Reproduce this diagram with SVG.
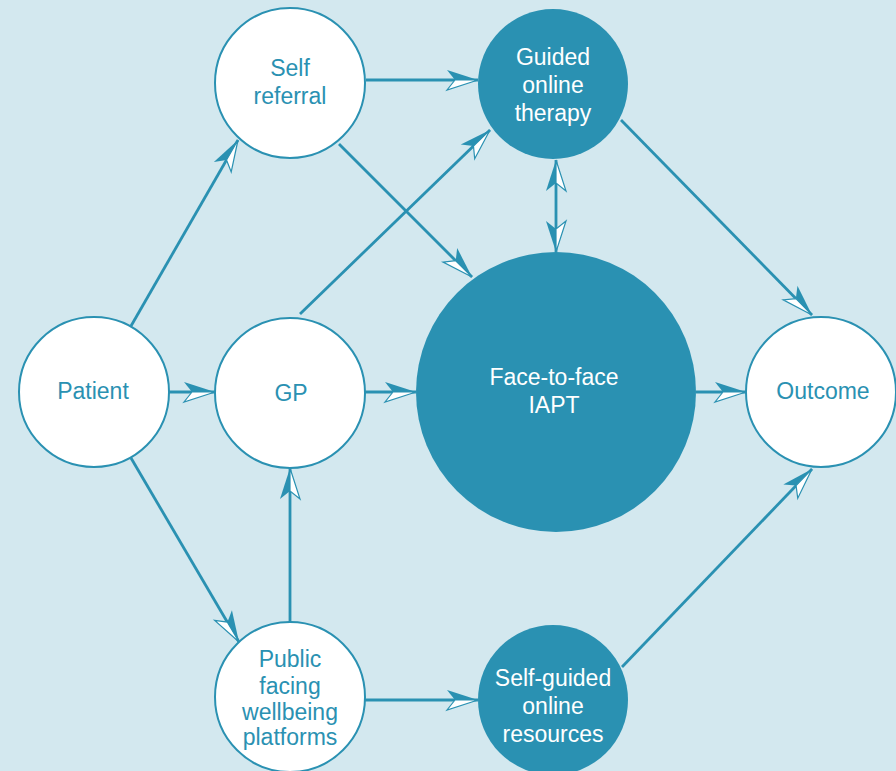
<svg xmlns="http://www.w3.org/2000/svg" width="896" height="771" viewBox="0 0 896 771">
<style>
.bg{fill:#d3e8ef}
.wn{fill:#ffffff;stroke:#2a91b2;stroke-width:2}
.dn{fill:#2a91b2}
.edge{fill:none;stroke:#2a91b2;stroke-width:2.8}
text{font-family:"Liberation Sans",Arial,sans-serif;font-size:23px;text-anchor:middle}
.wt{fill:#2a91b2}
.dt{fill:#ffffff}
</style>
<defs>
<marker id="aL" markerUnits="userSpaceOnUse" markerWidth="40" markerHeight="24" viewBox="-34 -12 40 24" refX="0" refY="0" orient="auto" overflow="visible">
<path d="M0,0 L-31,-10 L-23,0 Z" fill="#2a91b2"/>
<path d="M0,0 L-23,0 L-31,10 Z" fill="#ffffff" stroke="#2a91b2" stroke-width="1.2"/>
</marker>
<marker id="aR" markerUnits="userSpaceOnUse" markerWidth="40" markerHeight="24" viewBox="-34 -12 40 24" refX="0" refY="0" orient="auto-start-reverse" overflow="visible">
<path d="M0,0 L-31,10 L-23,0 Z" fill="#2a91b2"/>
<path d="M0,0 L-23,0 L-31,-10 Z" fill="#ffffff" stroke="#2a91b2" stroke-width="1.2"/>
</marker>
</defs>
<rect class="bg" x="0" y="0" width="896" height="771"/>
<g id="connectors">
<path class="edge" d="M131,326 L238,140" marker-end="url(#aL)"/>
<path class="edge" d="M169,392 L215,392" marker-end="url(#aL)"/>
<path class="edge" d="M131,458 L239,642" marker-end="url(#aL)"/>
<path class="edge" d="M366,80 L478,80" marker-end="url(#aL)"/>
<path class="edge" d="M339,144 L472,277" marker-end="url(#aL)"/>
<path class="edge" d="M300,314 L490,130" marker-end="url(#aL)"/>
<path class="edge" d="M365,392 L416,392" marker-end="url(#aL)"/>
<path class="edge" d="M556,252 L556,160" marker-start="url(#aR)" marker-end="url(#aL)"/>
<path class="edge" d="M621,120 L812,315" marker-end="url(#aL)"/>
<path class="edge" d="M696,392 L746,392" marker-end="url(#aL)"/>
<path class="edge" d="M290,622 L290,468" marker-end="url(#aL)"/>
<path class="edge" d="M365,700 L478,700" marker-end="url(#aL)"/>
<path class="edge" d="M622,667 L812,469" marker-end="url(#aL)"/>
</g>
<g id="patient"><circle class="wn" cx="94" cy="392" r="75"/><text class="wt" x="93" y="399">Patient</text></g>
<g id="self-referral"><circle class="wn" cx="290" cy="83" r="75"/><text class="wt" x="290" y="76">Self</text><text class="wt" x="290" y="104">referral</text></g>
<g id="gp"><circle class="wn" cx="290" cy="393" r="75"/><text class="wt" x="291" y="401">GP</text></g>
<g id="public"><circle class="wn" cx="290" cy="697" r="75"/><text class="wt" x="290" y="667">Public</text><text class="wt" x="290" y="694">facing</text><text class="wt" x="290" y="720">wellbeing</text><text class="wt" x="290" y="745">platforms</text></g>
<g id="guided"><circle class="dn" cx="553" cy="84" r="75"/><text class="dt" x="553" y="65">Guided</text><text class="dt" x="553" y="93">online</text><text class="dt" x="553" y="121">therapy</text></g>
<g id="face-to-face"><circle class="dn" cx="556" cy="392" r="140"/><text class="dt" x="554" y="385">Face-to-face</text><text class="dt" x="554" y="413">IAPT</text></g>
<g id="outcome"><circle class="wn" cx="821" cy="392" r="75"/><text class="wt" x="823" y="399">Outcome</text></g>
<g id="self-guided"><circle class="dn" cx="553" cy="700" r="75"/><text class="dt" x="553" y="686">Self-guided</text><text class="dt" x="553" y="714">online</text><text class="dt" x="553" y="742">resources</text></g>
</svg>
